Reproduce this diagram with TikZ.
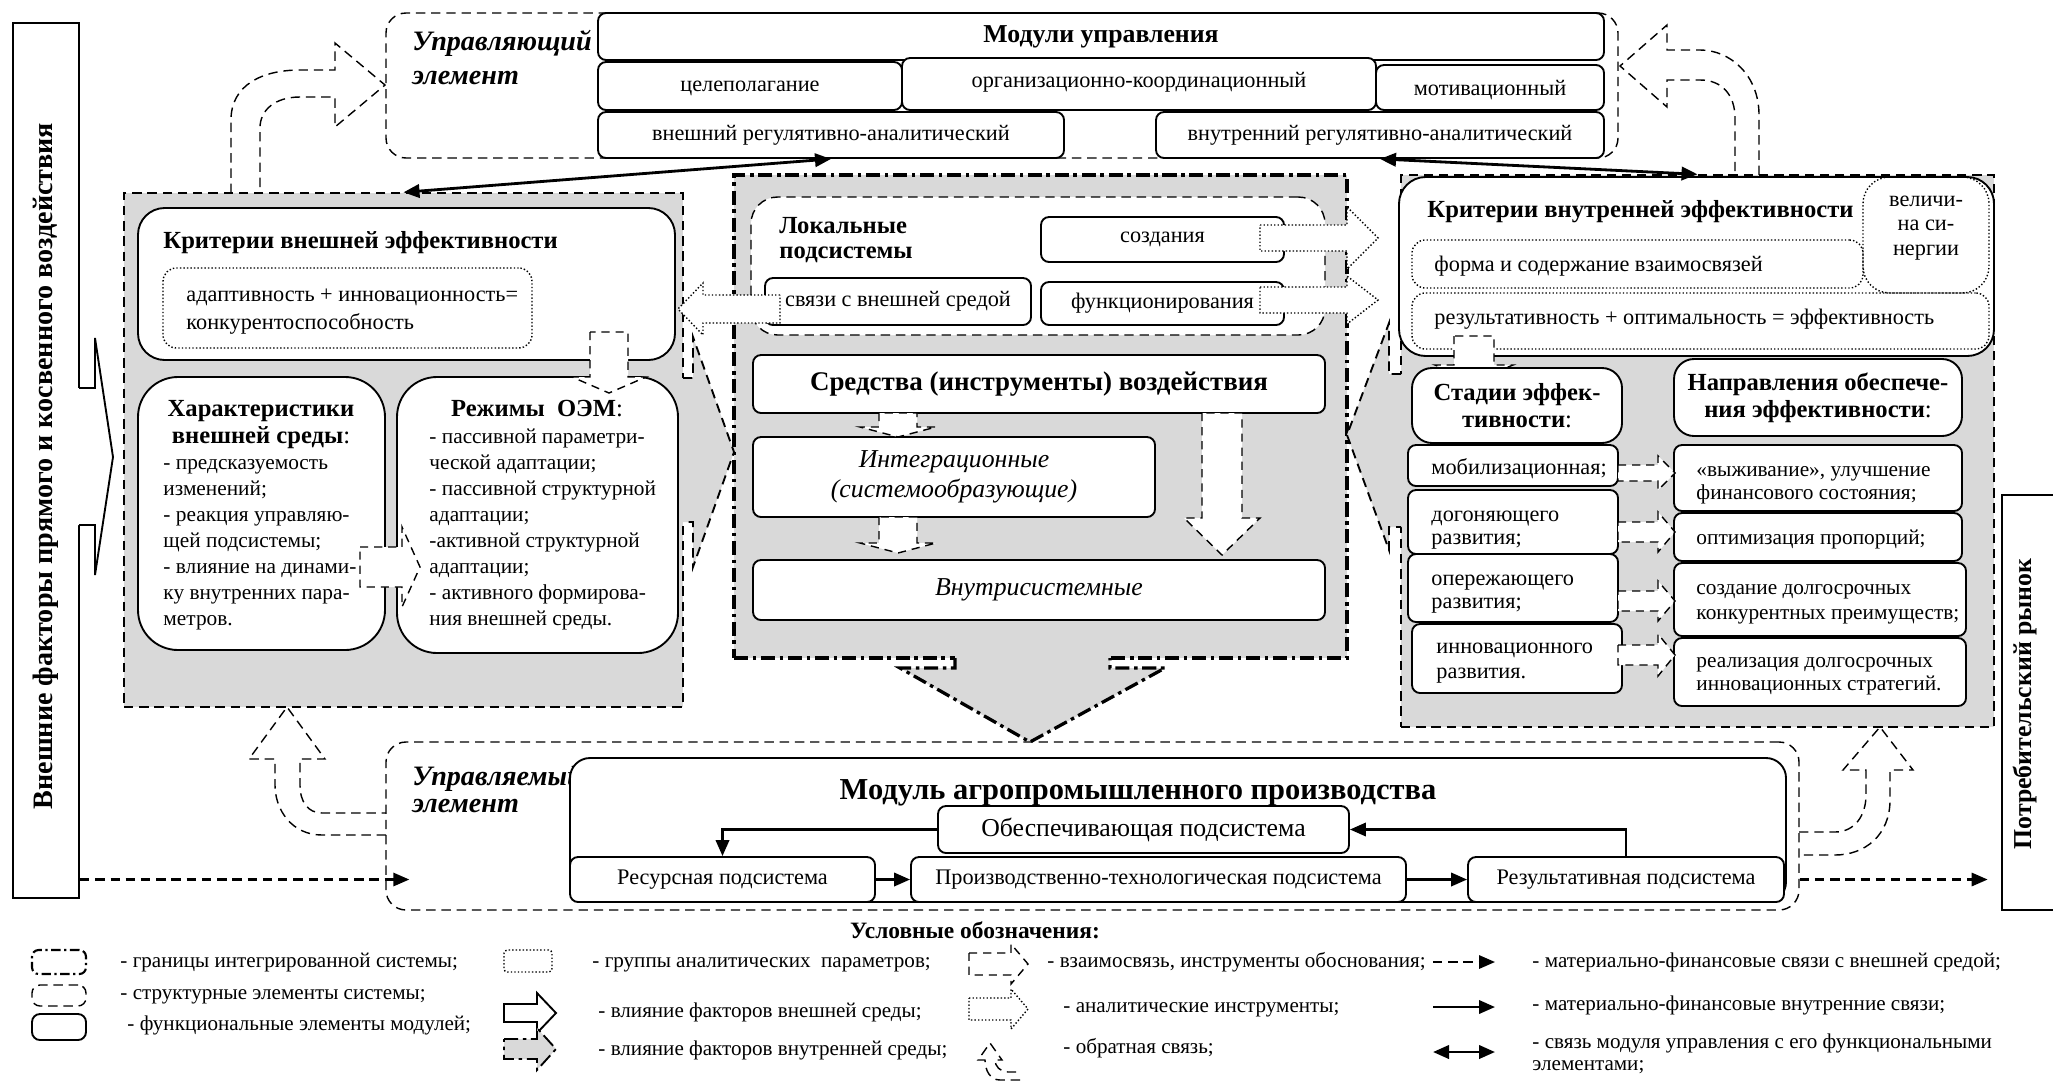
\documentclass[tikz,border=0pt]{standalone}
\usepackage{fontspec}
\setmainfont{Liberation Serif}
\usetikzlibrary{fit,arrows.meta}

\definecolor{greyfill}{gray}{0.85}

% 块状箭头: [样式]{y}{x0}{x1}{x2}{杆半宽}{头半宽}
\newcommand\harrowshape[7][]{%
  \draw[#1] ({#3},{#2-#6}) -- ({#4},{#2-#6}) -- ({#4},{#2-#7}) -- ({#5},{#2})
    -- ({#4},{#2+#7}) -- ({#4},{#2+#6}) -- ({#3},{#2+#6}) -- cycle;}
\newcommand\varrowshape[7][]{%
  \draw[#1] ({#2-#6},{#3}) -- ({#2-#6},{#4}) -- ({#2-#7},{#4}) -- ({#2},{#5})
    -- ({#2+#7},{#4}) -- ({#2+#6},{#4}) -- ({#2+#6},{#3}) -- cycle;}

\tikzset{
  every node/.style={inner sep=0pt},
  body/.style={font=\fontsize{9.5}{11}\selectfont},
  list/.style={font=\fontsize{9.1}{11}\selectfont},
  ttl/.style={font=\fontsize{10.5}{11.8}\selectfont\bfseries},
  lbl/.style={font=\fontsize{12}{14}\selectfont\bfseries\itshape},
  side/.style={font=\fontsize{11.5}{13}\selectfont\bfseries},
  legtxt/.style={font=\fontsize{9}{11}\selectfont},
  fbox/.style={draw, line width=0.8pt, fill=white, rounded corners=1.2mm},
  rbox/.style={fbox, rounded corners=4mm},
  dashline/.style={line width=0.6pt, dash pattern=on 4pt off 2.5pt},
  boundline/.style={line width=1.4pt, dash pattern=on 6pt off 2pt on 1.5pt off 2pt},
  sbox/.style={draw, dashline, rounded corners=3mm},
  gbox/.style={draw, fill=greyfill, dashline},
  ibox/.style={draw, fill=greyfill, boundline},
  pbox/.style={draw, line width=0.6pt, dash pattern=on 0.6pt off 0.9pt, rounded corners=2mm},
  linkarrow/.style={draw, fill=white, line width=0.6pt, dash pattern=on 3.5pt off 2.5pt},
  anaarrow/.style={draw, fill=white, line width=0.6pt, dash pattern=on 0.6pt off 0.9pt},
  inarrow/.style={line width=0.8pt, dash pattern=on 4pt off 2.5pt},
  flow/.style={line width=1.1pt, -{Triangle[length=2.4mm,width=2mm]}},
  extflow/.style={flow, line width=0.9pt, dash pattern=on 4pt off 2.5pt},
  dual/.style={line width=1.2pt, {Triangle[length=2.4mm,width=2mm]}-{Triangle[length=2.4mm,width=2mm]}},
}

\begin{document}
\begin{tikzpicture}[x=0.15mm, y=-0.15mm]
  \useasboundingbox (0,0) rectangle (2053,1083);

  % 左右两侧
  \node[draw, line width=0.9pt, fit={(13,23) (79,898)}] (outer) {};
  \node[side, font=\fontsize{12}{14}\selectfont\bfseries, rotate=90] (outertxt) at (46,466) {Внешние факторы прямого и косвенного воздействия};
  \node[draw, line width=0.9pt, fit={(2002,495) (2065,910)}] (market) {};
  \node[side, font=\fontsize{11}{13}\selectfont\bfseries, rotate=90] (markettxt) at (2025,704) {Потребительский рынок};
  \fill[white] (76,388) -- (95,388) -- (95,338) -- (113,457) -- (95,575) -- (95,525) -- (76,525) -- cycle;
  \draw[line width=0.8pt] (79,388) -- (95,388) -- (95,338) -- (113,457) -- (95,575) -- (95,525) -- (79,525);

  % 管理部分
  \node[sbox, fit={(386,13) (1618,158)}] (mgmt) {};
  \node[lbl, anchor=base west] (mgmt1) at (412,50) {Управляющий};
  \node[lbl, anchor=base west] (mgmt2) at (412,84) {элемент};
  \node[fbox, fit={(598,13) (1604,60)}] (modules) {};
  \node[fbox, fit={(598,62) (902,110)}] (goal) {};
  \node[fbox, fit={(1376,65) (1604,110)}] (motiv) {};
  \node[fbox, fit={(902,58) (1376,110)}] (coord) {};
  \node[fbox, fit={(598,112) (1064,158)}] (outreg) {};
  \node[fbox, fit={(1156,112) (1604,158)}] (inreg) {};
  \node[font=\fontsize{11}{13}\selectfont\bfseries] (modulest) at (modules) {Модули управления};
  \node[body] (goalt) at (750,88) {целеполагание};
  \node[body] (coordt) at (1139,82) {организационно-координационный};
  \node[body] (motivt) at (1490,90) {мотивационный};
  \node[body] (outregt) at (outreg) {внешний регулятивно-аналитический};
  \node[body] (inregt) at (inreg) {внутренний регулятивно-аналитический};

  % 反馈箭头
  \draw[dashline] (231,193) -- (231,120) .. controls (231,85) and (262,70) .. (300,70) -- (335,70) -- (335,43)
    -- (385,85) -- (335,127) -- (335,97) -- (300,97) .. controls (275,97) and (260,110) .. (260,128) -- (260,193);
  \draw[dashline] (1759,175) -- (1759,115) .. controls (1759,75) and (1730,50) .. (1700,50) -- (1667,50) -- (1667,25)
    -- (1620,66) -- (1667,107) -- (1667,80) -- (1700,80) .. controls (1722,80) and (1735,95) .. (1735,118) -- (1735,175);
  \draw[dashline] (386,835) -- (322,835) .. controls (292,835) and (275,810) .. (275,785) -- (275,759) -- (249,759)
    -- (287,707) -- (325,759) -- (300,759) -- (300,785) .. controls (300,802) and (308,813) .. (322,813) -- (386,813);
  \draw[dashline] (1799,832) -- (1835,832) .. controls (1855,832) and (1866,815) .. (1866,795) -- (1866,770) -- (1843,770)
    -- (1880,727) -- (1913,770) -- (1890,770) -- (1890,800) .. controls (1890,835) and (1865,855) .. (1835,855) -- (1799,855);

  % 三个组
  \node[gbox, fit={(124,193) (683,707)}] (leftgrp) {};
  \node[gbox, fit={(1401,175) (1994,727)}] (rightgrp) {};
  \node[ibox, fit={(734,175) (1347,658)}] (midgrp) {};
  \fill[greyfill] (678,378) -- (693,378) -- (693,337) -- (734,452) -- (693,567) -- (693,522) -- (678,522) -- cycle;
  \draw[inarrow] (683,378) -- (693,378) -- (693,337) -- (734,452) -- (693,567) -- (693,522) -- (683,522);
  \fill[greyfill] (1406,374) -- (1389,374) -- (1389,323) -- (1347,435) -- (1389,550) -- (1389,527) -- (1406,527) -- cycle;
  \draw[inarrow] (1401,374) -- (1389,374) -- (1389,323) -- (1347,435) -- (1389,550) -- (1389,527) -- (1401,527);
  \fill[greyfill] (955,652) -- (955,668) -- (900,668) -- (1030,742) -- (1165,668) -- (1110,668) -- (1110,652) -- cycle;
  \draw[boundline] (955,658) -- (955,668) -- (900,668) -- (1030,742) -- (1165,668) -- (1110,668) -- (1110,658);

  % 左组
  \node[rbox, fit={(138,208) (675,360)}] (extcrit) {};
  \node[ttl, anchor=base west] (extcritt) at (163,248) {Критерии внешней эффективности};
  \node[pbox, fit={(163,268) (532,348)}] (extpar) {};
  \node[body, anchor=base west] (extpar1) at (186,301) {адаптивность + инновационность=};
  \node[body, anchor=base west] (extpar2) at (186,329) {конкурентоспособность};
  \node[fbox, rounded corners=6mm, fit={(138,377) (385,650)}] (extchar) {};
  \node[fbox, rounded corners=6mm, fit={(397,377) (678,653)}] (oem) {};
  \node[ttl, anchor=base] (extcharh1) at (261,416) {Характеристики};
  \node[ttl, anchor=base] (extcharh2) at (261,443) {внешней среды\textmd{:}};
  \node[ttl, anchor=base] (oemh) at (537,416) {Режимы~~ОЭМ\textmd{:}};
  \foreach \t [count=\i] in {- предсказуемость, изменений;, - реакция управляю-, щей подсистемы;,
      - влияние на динами-, ку внутренних пара-, метров.}
    \node[list, anchor=base west] (ch\i) at (163,{469+26*(\i-1)}) {\t};
  \foreach \t [count=\i] in {- пассивной параметри-, ческой адаптации;, - пассивной структурной, адаптации;,
      -активной структурной, адаптации;, - активного формирова-, ния внешней среды.}
    \node[list, anchor=base west] (md\i) at (429,{443+26*(\i-1)}) {\t};
  \varrowshape[linkarrow]{609}{332}{377}{393}{19}{37}
  \harrowshape[linkarrow]{567}{360}{402}{420}{20}{40}

  % 中组
  \node[sbox, fill=white, rounded corners=4mm, fit={(751,197) (1325,335)}] (local) {};
  \node[ttl, anchor=base west] (local1) at (779,233) {Локальные};
  \node[ttl, anchor=base west] (local2) at (779,258) {подсистемы};
  \node[fbox, fit={(1041,217) (1284,262)}] (create) {};
  \node[fbox, fit={(765,278) (1031,325)}] (extlink) {};
  \node[fbox, fit={(1041,282) (1284,325)}] (operate) {};
  \node[fbox, fit={(753,355) (1325,413)}] (tools) {};
  \node[fbox, fit={(753,437) (1155,517)}] (integr) {};
  \node[fbox, fit={(753,560) (1325,620)}] (intra) {};
  \node[body] (createt) at (create) {создания};
  \node[body] (extlinkt) at (extlink) {связи с внешней средой};
  \node[body] (operatet) at (operate) {функционирования};
  \node[font=\fontsize{11.5}{13}\selectfont\bfseries] (toolst) at (tools) {Средства (инструменты) воздействия};
  \node[align=center, font=\fontsize{11}{12.6}\selectfont\itshape] (integrt) at (integr) {Интеграционные\\(системообразующие)};
  \node[font=\fontsize{11}{12.6}\selectfont\itshape] (intrat) at (intra) {Внутрисистемные};
  \varrowshape[linkarrow]{898}{413}{427}{437}{19}{38}
  \varrowshape[linkarrow]{898}{517}{543}{553}{19}{38}
  \varrowshape[linkarrow]{1222}{413}{518}{555}{20}{38}
  \harrowshape[anaarrow]{238}{1260}{1347}{1378}{13}{31}
  \harrowshape[anaarrow]{300}{1260}{1347}{1378}{13}{24}
  \harrowshape[anaarrow]{309}{780}{703}{678}{14}{26}

  % 右组
  \node[rbox, fit={(1399,177) (1994,356)}] (intcrit) {};
  \node[ttl, anchor=base west] (intcritt) at (1427,217) {Критерии внутренней эффективности};
  \node[pbox, fit={(1412,240) (1863,288)}] (form) {};
  \node[pbox, fit={(1412,293) (1989,349)}] (effect) {};
  \node[pbox, rounded corners=4mm, fit={(1863,177) (1989,293)}] (synergy) {};
  \node[align=center, font=\fontsize{9.5}{10.4}\selectfont] (synergyt) at (1926,228) {величи-\\на си-\\нергии};
  \node[body, anchor=base west] (formt) at (1434,271) {форма и содержание взаимосвязей};
  \node[body, anchor=base west] (effectt) at (1434,324) {результативность + оптимальность = эффективность};
  \varrowshape[linkarrow]{1474}{336}{365}{381}{20}{39}
  \node[fbox, rounded corners=3mm, fit={(1412,368) (1622,443)}] (stages) {};
  \node[fbox, rounded corners=3mm, fit={(1674,359) (1962,436)}] (dirs) {};
  \node[align=center, font=\fontsize{10.5}{11.6}\selectfont\bfseries] (stagest) at (stages) {Стадии эффек-\\тивности\textmd{:}};
  \node[align=center, font=\fontsize{10.5}{11.6}\selectfont\bfseries] (dirst) at (dirs) {Направления обеспече-\\ния эффективности\textmd{:}};
  \node[fbox, fit={(1408,445) (1618,486)}] (st1) {};
  \node[fbox, fit={(1408,490) (1618,554)}] (st2) {};
  \node[fbox, fit={(1408,554) (1618,622)}] (st3) {};
  \node[fbox, fit={(1412,624) (1622,693)}] (st4) {};
  \node[fbox, fit={(1674,445) (1962,511)}] (dir1) {};
  \node[fbox, fit={(1674,513) (1962,561)}] (dir2) {};
  \node[fbox, fit={(1674,563) (1966,636)}] (dir3) {};
  \node[fbox, fit={(1674,638) (1966,706)}] (dir4) {};
  \foreach \t/\x/\y [count=\i] in {мобилизационная;/1431/474, догоняющего/1431/521, развития;/1431/544,
      опережающего/1431/585, развития;/1431/608, инновационного/1436/653, развития./1436/678}
    \node[body, anchor=base west] (stt\i) at (\x,\y) {\t};
  \foreach \t/\y [count=\i] in {{«выживание», улучшение}/476, финансового состояния;/499, оптимизация пропорций;/544,
      создание долгосрочных/594, конкурентных преимуществ;/619, реализация долгосрочных/667, инновационных стратегий./690}
    \node[list, anchor=base west] (dirt\i) at (1696,\y) {\t};
  \foreach \y/\s/\h in {473/8/17, 532/10/20, 601/10/20, 655/10/21}
    \harrowshape[linkarrow]{\y}{1618}{1658}{1675}{\s}{\h};

  % 被管理部分
  \node[sbox, fit={(386,742) (1799,910)}] (managed) {};
  \node[lbl, anchor=base west] (managed1) at (412,785) {Управляемый};
  \node[lbl, anchor=base west] (managed2) at (412,812) {элемент};
  \node[fbox, rounded corners=3mm, fit={(570,758) (1786,902)}] (agro) {};
  \node[anchor=base, font=\fontsize{13}{15}\selectfont\bfseries] (agrot) at (1138,799) {Модуль агропромышленного производства};
  \node[fbox, fit={(938,806) (1349,853)}] (support) {};
  \node[fbox, fit={(570,857) (875,902)}] (resource) {};
  \node[fbox, fit={(911,857) (1406,902)}] (prodtech) {};
  \node[fbox, fit={(1468,857) (1784,902)}] (result) {};
  \node[font=\fontsize{11}{13}\selectfont] (supportt) at (support) {Обеспечивающая подсистема};
  \node[body] (resourcet) at (resource) {Ресурсная подсистема};
  \node[body] (prodtecht) at (prodtech) {Производственно-технологическая подсистема};
  \node[body] (resultt) at (result) {Результативная подсистема};

  % 连线
  \draw[flow] (resource) -- (prodtech);
  \draw[flow] (prodtech) -- (result);
  \draw[flow] (support.west) -| (resource.north);
  \draw[flow] (result.north) |- (support.east);
  \draw[extflow, shorten >=-3.6mm] (outer.east |- resource.west) -- (managed.west |- resource.west);
  \draw[extflow, shorten >=2mm] (managed.east |- result.east) -- (market.west |- result.east);
  \draw[dual] (outreg.south) -- (leftgrp.north);
  \draw[dual] (inreg.south) -- (rightgrp.north);

  % 图例
  \node[font=\fontsize{10}{12}\selectfont\bfseries] (legend) at (975,930) {Условные обозначения:};
  \node[draw, line width=0.9pt, rounded corners=1mm, dash pattern=on 4pt off 1.5pt on 1pt off 1.5pt, fit={(32,950) (86,974)}] (key1) {};
  \node[sbox, rounded corners=1.2mm, fit={(32,985) (86,1006)}] (key2) {};
  \node[fbox, rounded corners=1.2mm, fit={(32,1014) (86,1040)}] (key3) {};
  \node[pbox, rounded corners=0.5mm, fit={(504,950) (552,972)}] (key4) {};
  \harrowshape[draw, fill=white, line width=0.8pt]{1013}{504}{537}{556}{9}{20}
  \harrowshape[draw, fill=greyfill, boundline, line width=0.8pt]{1049}{504}{537}{556}{10}{21}
  \harrowshape[linkarrow]{964}{969}{1011}{1028}{11}{20}
  \harrowshape[anaarrow]{1009}{969}{1011}{1028}{11}{20}
  \draw[dashline] (1020,1080) -- (1000,1080) .. controls (990,1080) and (985,1070) .. (985,1060) -- (978,1060)
    -- (990,1043) -- (1002,1060) -- (995,1060) .. controls (995,1066) and (1000,1072) .. (1008,1072) -- (1020,1072);
  \coordinate (k5a) at (1433,962);  \coordinate (k5b) at (1495,962);
  \coordinate (k6a) at (1433,1007); \coordinate (k6b) at (1495,1007);
  \coordinate (k7a) at (1433,1052); \coordinate (k7b) at (1495,1052);
  \draw[extflow] (k5a) -- (k5b);
  \draw[flow] (k6a) -- (k6b);
  \draw[dual] (k7a) -- (k7b);
  \foreach \t/\x/\y [count=\i] in {- границы интегрированной системы;/120/967, - структурные элементы системы;/120/999,
      - функциональные элементы модулей;/127/1030, - группы аналитических~~параметров;/592/967,
      - влияние факторов внешней среды;/598/1017, - влияние факторов внутренней среды;/598/1055,
      {- взаимосвязь, инструменты обоснования;}/1047/967, - аналитические инструменты;/1063/1012,
      - обратная связь;/1063/1053, - материально-финансовые связи с внешней средой;/1532/967,
      - материально-финансовые внутренние связи;/1532/1010, - связь модуля управления с его функциональными/1532/1048,
      элементами;/1532/1070}
    \node[legtxt, anchor=base west] (leg\i) at (\x,\y) {\t};
\end{tikzpicture}
\end{document}
